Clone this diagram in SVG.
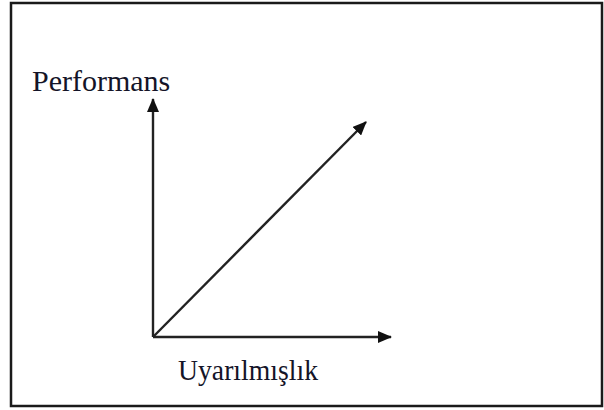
<svg xmlns="http://www.w3.org/2000/svg" width="604" height="410" viewBox="0 0 604 410">
<style>
.ax{stroke:#222;stroke-width:2.4;fill:none}
.lbl{font-family:"Liberation Serif","Times New Roman",serif;font-size:30px;fill:#141428}
</style>
<defs>
<marker id="ah" viewBox="0 0 14 12" refX="13" refY="6" markerWidth="14" markerHeight="12" markerUnits="userSpaceOnUse" orient="auto">
<path d="M0,0 L14,6 L0,12 Z" fill="#111"/>
</marker>
</defs>
<rect x="0" y="0" width="604" height="410" fill="#fff"/>
<rect id="frame" x="11" y="3" width="591" height="403" fill="none" stroke="#1a1a1a" stroke-width="2.5"/>
<g id="connectors">
<line class="ax" x1="153" y1="337" x2="153" y2="99" marker-end="url(#ah)"/>
<line class="ax" x1="153" y1="337" x2="391" y2="337" marker-end="url(#ah)"/>
<line class="ax" x1="153" y1="337" x2="366" y2="122" marker-end="url(#ah)"/>
</g>
<g id="performans"><text class="lbl" x="32" y="91">Performans</text></g>
<g id="uyarilmislik"><text class="lbl" x="178" y="380" textLength="140" lengthAdjust="spacingAndGlyphs">Uyarılmışlık</text></g>
</svg>
